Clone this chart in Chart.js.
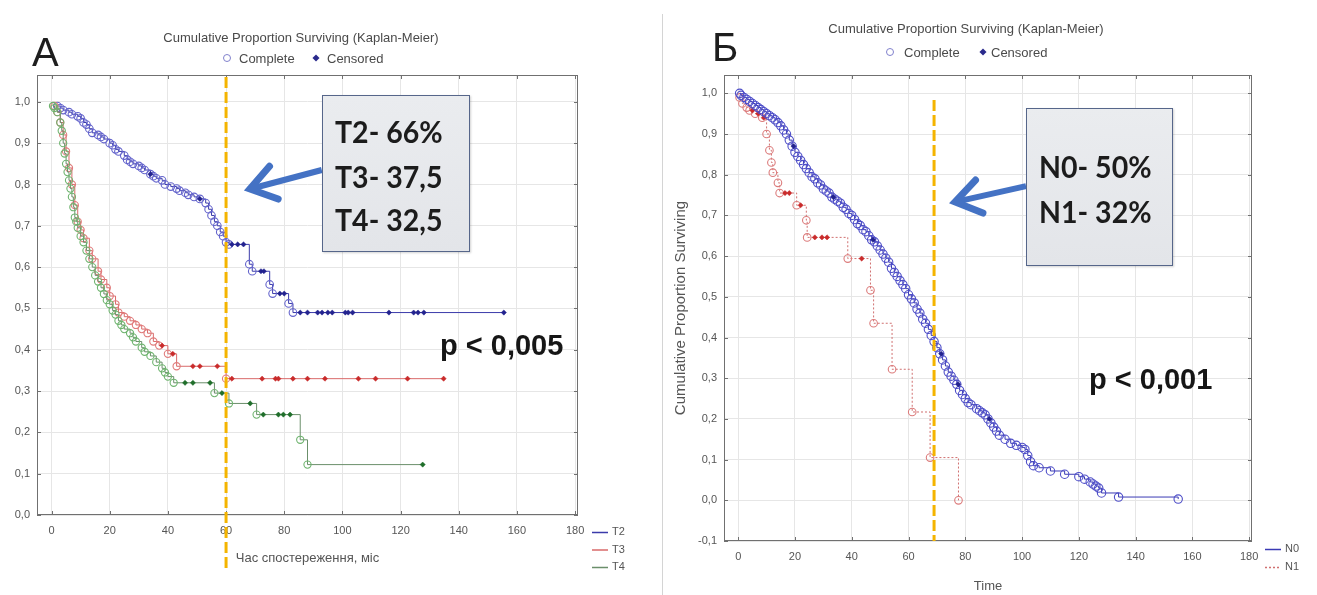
<!DOCTYPE html>
<html>
<head>
<meta charset="utf-8">
<title>Kaplan-Meier</title>
<script src="https://cdn.jsdelivr.net/npm/chart.js@4.4.1/dist/chart.umd.min.js"></script>
<style>
  body { margin: 0; background: #fff; font-family: "Liberation Sans", Arial, sans-serif; }
  #page { position: relative; width: 1317px; height: 595px; overflow: hidden; background: #fff; }
  canvas { position: absolute; top: 0; }
  #chartA { left: 0; }
  #chartB { left: 662px; }
  .t { position: absolute; line-height: 1; white-space: nowrap; transform: translateY(-50%); }
  .head { color: #4a4a4a; font-size: 13px; transform: translate(-50%, -50%); }
  .leg { color: #4a4a4a; font-size: 13px; }
  .letter { font-size: 40px; color: #1e1e1e; }
  .box { position: absolute; background: linear-gradient(#eaecef, #e3e5e9); border: 1px solid #56668a; box-shadow: 1px 1px 2px rgba(0,0,0,.18); }
  .box .t { font-family: Lato, sans-serif; font-weight: 700; font-size: 31px; color: #1c1c1c; transform: translateY(-50%) scaleX(0.92); transform-origin: left center; }
  .pval { font-weight: 700; font-size: 29px; color: #161616; }
  .sep { position: absolute; left: 662px; top: 14px; width: 1px; height: 581px; background: #d4d4d4; }
  .mk-c { position: absolute; width: 6px; height: 6px; border: 1.3px solid #8080cc; border-radius: 50%; transform: translate(-50%, -50%); }
  .mk-d { position: absolute; width: 5px; height: 5px; background: #2a2a8c; transform: translate(-50%, -50%) rotate(45deg); }
</style>
</head>
<body>
<div id="page">
  <canvas id="chartA" width="660" height="595"></canvas>
  <canvas id="chartB" width="655" height="595"></canvas>
  <div class="sep"></div>

  <div class="t letter" style="left:32px;top:52px">А</div>
  <div class="t letter" style="left:712px;top:47px">Б</div>

  <div class="t head" style="left:301px;top:37px">Cumulative Proportion Surviving (Kaplan-Meier)</div>
  <div class="mk-c" style="left:227px;top:58px"></div>
  <div class="t leg" style="left:239px;top:58px">Complete</div>
  <div class="mk-d" style="left:316px;top:58px"></div>
  <div class="t leg" style="left:327px;top:58px">Censored</div>

  <div class="t head" style="left:966px;top:28px">Cumulative Proportion Surviving (Kaplan-Meier)</div>
  <div class="mk-c" style="left:890px;top:52px"></div>
  <div class="t leg" style="left:904px;top:52px">Complete</div>
  <div class="mk-d" style="left:983px;top:52px"></div>
  <div class="t leg" style="left:991px;top:52px">Censored</div>

  <div class="box" style="left:322px;top:95px;width:146px;height:155px">
    <div class="t" style="left:12px;top:35px">T2- 66%</div>
    <div class="t" style="left:12px;top:80px">T3- 37,5</div>
    <div class="t" style="left:12px;top:123px">T4- 32,5</div>
  </div>
  <div class="box" style="left:1026px;top:108px;width:145px;height:156px">
    <div class="t" style="left:12px;top:57px">N0- 50%</div>
    <div class="t" style="left:12px;top:102px">N1- 32%</div>
  </div>

  <div class="t pval" style="left:440px;top:345px">p &lt; 0,005</div>
  <div class="t pval" style="left:1089px;top:379px">p &lt; 0,001</div>
</div>

<script>
// ---- panel A: survival by T stage (time in months)
const t2Time = [2, 3, 4, 6, 7, 9, 10, 11, 12, 13, 14, 16, 17, 18, 20, 21, 22, 23, 25, 26, 27, 28, 30, 31, 32, 34, 35, 36, 38, 39, 41, 43, 44, 46, 47, 49, 51, 53, 54, 55, 56, 57, 58, 59, 60, 61, 68, 69, 75, 76, 81.5, 83];
const t2Surv = [0.99, 0.985, 0.98, 0.975, 0.97, 0.965, 0.96, 0.95, 0.945, 0.935, 0.925, 0.92, 0.915, 0.91, 0.90, 0.895, 0.885, 0.88, 0.87, 0.86, 0.855, 0.85, 0.845, 0.84, 0.835, 0.825, 0.82, 0.815, 0.81, 0.80, 0.795, 0.79, 0.785, 0.78, 0.775, 0.77, 0.765, 0.755, 0.74, 0.725, 0.71, 0.70, 0.685, 0.675, 0.66, 0.655, 0.607, 0.59, 0.558, 0.536, 0.512, 0.49];
const t2Cens = [34, 51, 62, 64, 66, 72, 73, 78.5, 80, 85.5, 88, 91.5, 93, 95, 96.5, 101, 102, 103.5, 116, 124.5, 126, 128, 155.5];

const t3Time = [1, 2, 3, 4, 5, 6, 7, 8, 9, 10, 11, 13, 14, 16, 17, 19, 20, 22, 23, 25, 27, 29, 31, 33, 35, 37, 40, 43, 60];
const t3Surv = [0.99, 0.975, 0.95, 0.92, 0.88, 0.84, 0.80, 0.75, 0.71, 0.69, 0.67, 0.64, 0.62, 0.59, 0.57, 0.55, 0.53, 0.51, 0.49, 0.48, 0.47, 0.46, 0.45, 0.44, 0.42, 0.41, 0.39, 0.36, 0.33];
const t3Cens = [38, 41.7, 48.6, 51, 57, 62, 72.4, 77, 78, 83, 88, 94, 105.5, 111.4, 122.4, 134.8];

const t4Time = [0.5, 1, 2, 3, 3.5, 4, 4.5, 5, 5.5, 6, 6.5, 7, 7.5, 8, 8.5, 9, 10, 11, 12, 13, 14, 15, 16, 17, 18, 19, 20, 21, 22, 23, 24, 25, 27, 28, 29, 31, 32, 34, 36, 38, 39, 40, 42, 56, 61, 70.5, 85.5, 88];
const t4Surv = [0.99, 0.985, 0.975, 0.95, 0.93, 0.90, 0.875, 0.85, 0.83, 0.81, 0.79, 0.77, 0.745, 0.72, 0.71, 0.695, 0.675, 0.66, 0.64, 0.62, 0.60, 0.58, 0.565, 0.55, 0.535, 0.52, 0.51, 0.495, 0.485, 0.47, 0.46, 0.45, 0.44, 0.43, 0.42, 0.405, 0.395, 0.385, 0.37, 0.355, 0.345, 0.335, 0.32, 0.295, 0.27, 0.243, 0.182, 0.122];
const t4Cens = [45.9, 48.6, 54.5, 58.6, 68.3, 72.8, 78, 79.7, 82, 127.6];

// ---- panel B: survival by N stage
const n0Time = [0.5, 1, 2, 3, 4, 5, 6, 7, 8, 9, 10, 11, 12, 13, 14, 15, 16, 17, 18, 19, 20, 21, 22, 23, 24, 25, 26, 27, 28, 29, 30, 31, 32, 33, 34, 35, 36, 37, 38, 39, 40, 41, 42, 43, 44, 45, 46, 47, 48, 49, 50, 51, 52, 53, 54, 55, 56, 57, 58, 59, 60, 61, 62, 63, 64, 65, 66, 67, 68, 69, 70, 71, 72, 73, 74, 75, 76, 77, 78, 79, 80, 81, 82, 84, 85, 86, 87, 88, 89, 90, 91, 92, 94, 96, 98, 100, 101, 102, 103, 104, 106, 110, 115, 120, 122, 124, 125, 126, 127, 128, 134, 155];
const n0Surv = [1.0, 0.995, 0.99, 0.985, 0.98, 0.975, 0.97, 0.965, 0.96, 0.955, 0.95, 0.945, 0.94, 0.935, 0.928, 0.92, 0.91, 0.90, 0.885, 0.87, 0.855, 0.845, 0.835, 0.825, 0.815, 0.805, 0.795, 0.79, 0.78, 0.775, 0.765, 0.76, 0.755, 0.745, 0.74, 0.735, 0.73, 0.72, 0.715, 0.705, 0.70, 0.69, 0.68, 0.675, 0.665, 0.66, 0.65, 0.64, 0.635, 0.625, 0.615, 0.605, 0.595, 0.585, 0.57, 0.56, 0.55, 0.54, 0.53, 0.52, 0.505, 0.495, 0.485, 0.47, 0.46, 0.445, 0.435, 0.42, 0.405, 0.39, 0.375, 0.36, 0.345, 0.33, 0.315, 0.305, 0.295, 0.285, 0.27, 0.26, 0.25, 0.24, 0.235, 0.225, 0.22, 0.215, 0.21, 0.20, 0.19, 0.18, 0.17, 0.16, 0.15, 0.14, 0.135, 0.13, 0.125, 0.11, 0.095, 0.085, 0.08, 0.072, 0.064, 0.058, 0.052, 0.045, 0.04, 0.035, 0.03, 0.018, 0.008, 0.003];
const n0Cens = [19.5, 33.5, 47.5, 71.5, 77.5, 88.5];

const n1Time = [0.5, 1.5, 3, 4, 6, 8.5, 10, 11, 11.7, 12.2, 14, 14.6, 20.6, 24, 24.3, 38.6, 46.6, 47.7, 54.2, 61.3, 67.6, 77.6];
const n1Surv = [0.99, 0.975, 0.965, 0.958, 0.95, 0.94, 0.90, 0.86, 0.83, 0.805, 0.78, 0.755, 0.725, 0.688, 0.646, 0.594, 0.516, 0.435, 0.322, 0.217, 0.105, 0.0];
const n1Cens = [5, 7, 9, 16.5, 18, 22, 27, 29.5, 31.3, 43.5];

// 5-year marks shown by the dashed lines, and where the callout arrows point (data units)
const cutA = 60, cutB = 69;
const arrowA = { from: [92.9, 0.835], to: [68.2, 0.789] };
const arrowB = { from: [101.4, 0.772], to: [76.4, 0.733] };

Chart.defaults.font.family = '"Liberation Sans", Arial, sans-serif';
Chart.defaults.color = '#555';

// survival value of a group at time t (last event at or before t)
function stepAt(times, surv, t) {
  let s = 1;
  for (let i = 0; i < times.length; i++) if (times[i] <= t) s = surv[i];
  return s;
}

function kmSet(label, times, surv, cens, lineColor, dotColor, dash, order, r) {
  const pts = times.map((t, i) => ({ x: t, y: surv[i] }));
  const lastCens = Math.max(...cens);
  // the curve runs on to the last censored case
  if (lastCens > times[times.length - 1]) pts.push({ x: lastCens, y: surv[surv.length - 1], tail: true });
  return {
    label, data: pts, stepped: true, legendLine: true, order,
    borderColor: lineColor, borderWidth: 1, borderDash: dash, fill: false,
    pointStyle: 'circle',
    pointRadius: c => (c.raw && c.raw.tail) ? 0 : r,
    pointBorderColor: dotColor, pointBorderWidth: 1.1,
    pointBackgroundColor: 'rgba(255,255,255,0)'
  };
}

function censSet(times, surv, cens, color, order) {
  return {
    label: 'censored', showLine: false, order,
    data: cens.map(t => ({ x: t, y: stepAt(times, surv, t) })),
    pointStyle: 'rectRot', pointRadius: 2.6, pointBorderWidth: 0.5,
    pointBackgroundColor: color, pointBorderColor: color
  };
}

const fmtY = v => v.toFixed(1).replace('.', ',');

function axes(c) {
  return {
    x: {
      type: 'linear', min: -5, max: 181,
      grid: { color: '#e6e6e6', drawTicks: false },
      border: { display: false },
      ticks: { stepSize: 20, includeBounds: false, autoSkip: false, maxRotation: 0, padding: 9, font: { size: 11 } },
      title: { display: true, text: c.xTitle, font: { size: 13 }, padding: { top: 0, bottom: c.xTitlePad } },
      afterFit: s => { s.height = c.xHeight; }
    },
    y: {
      type: 'linear', min: c.yMin, max: c.yMax,
      grid: { color: '#e6e6e6', drawTicks: false },
      border: { display: false },
      ticks: { stepSize: 0.1, includeBounds: false, autoSkip: false, maxTicksLimit: 20, padding: 7, font: { size: 11 }, callback: fmtY },
      title: c.yTitle ? { display: true, text: c.yTitle, font: { size: 15 }, padding: { top: c.yTitlePad, bottom: 0 } } : { display: false },
      afterFit: s => { s.width = c.yWidth; }
    }
  };
}

function drawArrow(ctx, x1, y1, x2, y2) {
  const ang = Math.atan2(y1 - y2, x1 - x2);
  ctx.strokeStyle = '#4472c4';
  ctx.setLineDash([]);
  ctx.lineWidth = 6;
  ctx.lineCap = 'butt';
  ctx.beginPath();
  ctx.moveTo(x1, y1);
  ctx.lineTo(x2 + 4 * Math.cos(ang), y2 + 4 * Math.sin(ang));
  ctx.stroke();
  ctx.lineWidth = 7;
  ctx.lineJoin = 'miter';
  ctx.lineCap = 'round';
  ctx.beginPath();
  ctx.moveTo(x2 + 30 * Math.cos(ang - 0.6), y2 + 30 * Math.sin(ang - 0.6));
  ctx.lineTo(x2, y2);
  ctx.lineTo(x2 + 30 * Math.cos(ang + 0.6), y2 + 30 * Math.sin(ang + 0.6));
  ctx.stroke();
}

// frame, dashed cut-off line, callout arrow and the series key in the corner
function makeDecor(d) {
  return {
    id: 'decor',
    beforeDatasetsDraw(chart) {
      const { ctx, chartArea: a, scales: { x, y } } = chart;
      ctx.save();
      ctx.strokeStyle = '#707070';
      ctx.lineWidth = 1;
      ctx.strokeRect(a.left + 0.5, a.top + 0.5, a.width - 1, a.height - 1);
      ctx.beginPath();
      x.ticks.forEach(t => {
        const px = Math.round(x.getPixelForValue(t.value)) + 0.5;
        ctx.moveTo(px, a.top); ctx.lineTo(px, a.top + 4);
        ctx.moveTo(px, a.bottom); ctx.lineTo(px, a.bottom - 4);
      });
      y.ticks.forEach(t => {
        const py = Math.round(y.getPixelForValue(t.value)) + 0.5;
        ctx.moveTo(a.left, py); ctx.lineTo(a.left + 4, py);
        ctx.moveTo(a.right, py); ctx.lineTo(a.right - 4, py);
      });
      ctx.stroke();
      ctx.restore();
    },
    afterDatasetsDraw(chart) {
      const { ctx, chartArea: a, scales: { x, y } } = chart;
      ctx.save();
      const cx = x.getPixelForValue(d.cut);
      ctx.strokeStyle = '#f4b400';
      ctx.lineWidth = 3;
      ctx.setLineDash([11, 4]);
      ctx.beginPath();
      ctx.moveTo(cx, a.top + d.cutTop);
      ctx.lineTo(cx, a.bottom + d.cutBottom);
      ctx.stroke();
      drawArrow(ctx,
        x.getPixelForValue(d.arrow.from[0]), y.getPixelForValue(d.arrow.from[1]),
        x.getPixelForValue(d.arrow.to[0]), y.getPixelForValue(d.arrow.to[1]));
      ctx.restore();
    },
    afterDraw(chart) {
      const { ctx, chartArea: a } = chart;
      ctx.save();
      ctx.font = '11px "Liberation Sans", Arial, sans-serif';
      ctx.textBaseline = 'middle';
      chart.data.datasets.filter(s => s.legendLine).forEach((s, i) => {
        const lx = a.right + d.keyDx, ly = a.bottom + d.keyDy + i * d.keyStep;
        ctx.strokeStyle = s.borderColor;
        ctx.lineWidth = 1.5;
        ctx.setLineDash(s.borderDash || []);
        ctx.beginPath();
        ctx.moveTo(lx, ly + 0.5);
        ctx.lineTo(lx + 16, ly + 0.5);
        ctx.stroke();
        ctx.fillStyle = '#555';
        ctx.fillText(s.label, lx + 20, ly);
      });
      ctx.restore();
    }
  };
}

new Chart(document.getElementById('chartA'), {
  type: 'line',
  data: {
    datasets: [
      kmSet('T2', t2Time, t2Surv, t2Cens, '#3b3baa', '#6464cc', [], 5, 3.8),
      kmSet('T3', t3Time, t3Surv, t3Cens, '#d96a6a', '#e07b7b', [], 3, 3.6),
      kmSet('T4', t4Time, t4Surv, t4Cens, '#6b8f6b', '#6fb46f', [], 1, 3.6),
      censSet(t2Time, t2Surv, t2Cens, '#23238f', 4),
      censSet(t3Time, t3Surv, t3Cens, '#c92b2b', 2),
      censSet(t4Time, t4Surv, t4Cens, '#1f6e2a', 0)
    ]
  },
  options: {
    responsive: false, animation: false, events: [],
    layout: { padding: { left: 4, top: 75, right: 82, bottom: 22 } },
    scales: axes({ xTitle: 'Час спостереження, міс', xTitlePad: 7, xHeight: 58, yMin: 0, yMax: 1.065, yWidth: 33 }),
    plugins: { legend: { display: false }, tooltip: { enabled: false } }
  },
  plugins: [makeDecor({ cut: cutA, cutTop: 2, cutBottom: 53, arrow: arrowA, keyDx: 14, keyDy: 17, keyStep: 17.5 })]
});

new Chart(document.getElementById('chartB'), {
  type: 'line',
  data: {
    datasets: [
      kmSet('N0', n0Time, n0Surv, n0Cens, '#3a3ab4', '#4e4ec8', [], 1, 4.2),
      kmSet('N1', n1Time, n1Surv, n1Cens, '#d07070', '#dc7c7c', [2, 2], 3, 3.8),
      censSet(n0Time, n0Surv, n0Cens, '#23238f', 0),
      censSet(n1Time, n1Surv, n1Cens, '#c92b2b', 2)
    ]
  },
  options: {
    responsive: false, animation: false, events: [],
    layout: { padding: { left: 8, top: 75, right: 65, bottom: 0 } },
    scales: axes({ xTitle: 'Time', xTitlePad: 1, xHeight: 54, yMin: -0.1, yMax: 1.045, yWidth: 54,
                   yTitle: 'Cumulative Proportion Surviving', yTitlePad: 2 }),
    plugins: { legend: { display: false }, tooltip: { enabled: false } }
  },
  plugins: [makeDecor({ cut: cutB, cutTop: 25, cutBottom: 0, arrow: arrowB, keyDx: 13, keyDy: 8, keyStep: 18 })]
});
</script>
</body>
</html>
